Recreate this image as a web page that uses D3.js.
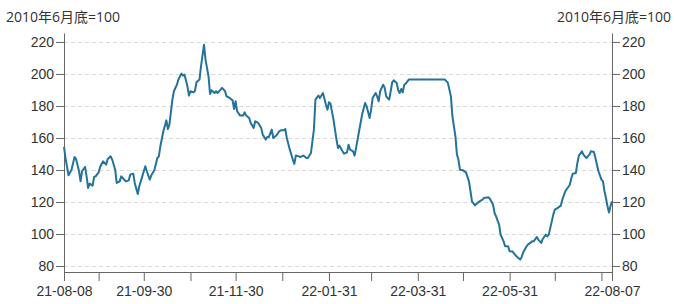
<!DOCTYPE html>
<html>
<head>
<meta charset="utf-8">
<script src="https://cdn.jsdelivr.net/npm/d3@7/dist/d3.min.js"></script>
<style>
  body { margin: 0; background: #fff; }
  svg { display: block; font-family: "Open Sans", "Noto Sans CJK SC", sans-serif; }
</style>
</head>
<body>
<div id="chart"></div>
<script>
// 数据：起始日 + 天数偏移，指数值（2010年6月底=100）
const startDate = '2021-08-08';
const endDate = '2022-08-07';

const dayOffsets = [
  0, 1, 3, 5, 7, 8, 10, 11, 12, 14, 15, 16, 17, 19, 20, 21, 23, 24, 26, 28,
  29, 31, 32, 34, 35, 37, 38, 39, 41, 43, 44, 46, 47, 49, 50, 52, 54, 55, 57, 58,
  60, 62, 63, 64, 66, 68, 69, 70, 72, 73, 75, 76, 78, 79, 80, 82, 83, 84, 86, 87,
  88, 90, 91, 93, 94, 96, 97, 98, 100, 101, 102, 104, 105, 107, 108, 110, 112, 113, 114, 115,
  117, 119, 120, 121, 123, 124, 126, 127, 129, 131, 132, 134, 135, 136, 138, 139, 141, 143, 144, 146,
  147, 148, 150, 152, 153, 154, 156, 157, 159, 161, 162, 164, 166, 167, 169, 170, 171, 172, 174, 175,
  176, 177, 179, 181, 182, 183, 185, 186, 188, 189, 190, 192, 193, 194, 196, 198, 200, 201, 203, 204,
  205, 207, 208, 209, 210, 212, 213, 214, 216, 217, 218, 219, 221, 222, 223, 224, 225, 226, 227, 229,
  253, 255, 256, 257, 258, 260, 261, 262, 263, 265, 267, 269, 270, 271, 273, 274, 276, 278, 279, 282,
  283, 285, 286, 287, 289, 290, 292, 293, 295, 296, 298, 299, 301, 303, 304, 305, 307, 308, 309, 311,
  312, 314, 315, 317, 318, 320, 321, 322, 324, 325, 326, 328, 330, 331, 333, 334, 336, 337, 338, 340,
  341, 342, 344, 345, 347, 349, 350, 352, 353, 354, 355, 357, 358, 359, 360, 361, 362, 363, 364
];

const values = [
  154.5, 147.5, 136.7, 140.2, 148.1, 146.9, 139.2, 132.9, 139.2, 141.9, 136.0, 128.8, 131.5, 130.2, 135.6, 136.0, 138.5, 141.9, 145.4, 143.3,
  146.9, 148.5, 146.5, 140.2, 131.9, 132.9, 136.0, 135.0, 132.9, 133.5, 137.1, 137.7, 131.9, 125.0, 129.8, 136.0, 142.3, 139.2, 134.0, 136.7,
  139.8, 147.5, 148.5, 154.8, 164.2, 171.0, 165.6, 168.3, 184.0, 189.2, 193.3, 196.5, 200.2, 199.0, 199.6, 192.3, 186.5, 189.2, 188.5, 189.4,
  194.8, 196.5, 204.8, 218.3, 209.0, 198.5, 187.5, 189.8, 188.1, 189.2, 188.1, 190.2, 191.3, 189.2, 186.0, 185.0, 183.5, 178.1, 182.9, 176.7,
  174.0, 174.0, 176.0, 174.0, 172.5, 169.4, 166.3, 170.4, 169.4, 166.3, 162.1, 159.0, 160.6, 160.6, 165.2, 160.0, 161.5, 164.2, 164.8, 164.8,
  165.6, 160.0, 152.7, 146.5, 143.8, 149.0, 148.5, 148.1, 149.0, 147.5, 147.5, 150.6, 165.2, 184.0, 186.5, 185.0, 186.5, 188.1, 180.8, 177.7,
  182.3, 181.5, 171.5, 159.0, 153.8, 155.2, 151.7, 150.2, 151.0, 155.8, 152.7, 151.7, 149.0, 153.8, 164.2, 174.6, 181.9, 179.8, 172.5, 177.7,
  185.0, 188.1, 186.0, 182.9, 189.2, 193.3, 191.3, 186.0, 184.0, 189.2, 194.8, 196.0, 194.4, 189.8, 188.1, 190.6, 188.5, 193.3, 194.0, 196.5,
  196.5, 194.4, 190.2, 186.0, 173.5, 161.0, 149.6, 146.5, 140.2, 139.8, 138.5, 132.9, 126.7, 120.4, 117.9, 118.9, 120.4, 121.5, 122.5, 122.9,
  121.9, 118.3, 113.1, 111.0, 105.8, 99.6, 95.4, 92.3, 92.3, 89.2, 89.0, 87.7, 85.6, 84.0, 85.6, 88.5, 91.9, 93.3, 94.0, 95.4,
  95.4, 98.1, 96.5, 94.4, 96.9, 99.6, 98.5, 99.6, 107.9, 112.1, 115.2, 116.3, 117.7, 121.5, 126.7, 128.1, 130.8, 135.0, 137.7, 138.1,
  144.4, 149.0, 151.7, 149.6, 147.5, 149.6, 151.7, 151.3, 147.5, 143.3, 139.2, 134.0, 132.9, 126.7, 122.5, 117.3, 113.5, 117.3, 120.4
];

// 月末刻度
const tickDates = [
  '2021-08-08', '2021-08-31', '2021-09-30', '2021-10-31', '2021-11-30', '2021-12-31',
  '2022-01-31', '2022-02-28', '2022-03-31', '2022-04-30', '2022-05-31', '2022-06-30',
  '2022-07-31', '2022-08-07'
];
const tickLabels = ['21-08-08', '21-09-30', '21-11-30', '22-01-31', '22-03-31', '22-05-31', '22-08-07'];
const yTicks = [80, 100, 120, 140, 160, 180, 200, 220];
const unitLabel = '2010年6月底=100';

const width = 674, height = 304;
const margin = { top: 33, right: 62, bottom: 32, left: 64 };
const fontSize = '14px';

const parse = d3.timeParse('%Y-%m-%d');
const fmt = d3.timeFormat('%y-%m-%d');
const start = parse(startDate);

const data = dayOffsets.map((d, i) => ({ date: d3.timeDay.offset(start, d), value: values[i] }));

const svg = d3.select('#chart').append('svg')
  .attr('width', width)
  .attr('height', height);

const x = d3.scaleTime()
  .domain([start, parse(endDate)])
  .range([margin.left, width - margin.right]);

const y = d3.scaleLinear()
  .domain([76.25, 225.6])
  .range([height - margin.bottom, margin.top]);

// 网格线
svg.append('g')
  .selectAll('line')
  .data(yTicks)
  .enter()
  .append('line')
  .attr('x1', margin.left)
  .attr('x2', width - margin.right)
  .attr('y1', d => Math.round(y(d)) + 0.5)
  .attr('y2', d => Math.round(y(d)) + 0.5)
  .attr('stroke', '#d9d9d9')
  .attr('stroke-dasharray', '4,3');

const axisColor = '#666';
const textColor = '#333';

function styleAxis(g) {
  g.select('.domain').attr('stroke', axisColor);
  g.selectAll('.tick line').attr('stroke', axisColor);
  g.selectAll('.tick text').attr('fill', textColor).style('font-size', fontSize);
}

// 左轴
svg.append('g')
  .attr('transform', `translate(${margin.left},0)`)
  .call(d3.axisLeft(y).tickValues(yTicks).tickSize(8).tickSizeOuter(0).tickPadding(2))
  .call(styleAxis);

// 右轴
svg.append('g')
  .attr('transform', `translate(${width - margin.right},0)`)
  .call(d3.axisRight(y).tickValues(yTicks).tickSize(8).tickSizeOuter(0).tickPadding(2))
  .call(styleAxis);

// 底轴
svg.append('g')
  .attr('transform', `translate(0,${height - margin.bottom})`)
  .call(d3.axisBottom(x)
    .tickValues(tickDates.map(parse))
    .tickSize(9)
    .tickSizeOuter(0)
    .tickPadding(5)
    .tickFormat(d => tickLabels.includes(fmt(d)) ? fmt(d) : ''))
  .call(styleAxis);

// 折线
const line = d3.line()
  .x(d => x(d.date))
  .y(d => y(d.value));

svg.append('path')
  .datum(data)
  .attr('fill', 'none')
  .attr('stroke', '#23739b')
  .attr('stroke-width', 2)
  .attr('stroke-linejoin', 'round')
  .attr('d', line);

// 单位标题
svg.append('text')
  .attr('x', 6)
  .attr('y', 22)
  .attr('fill', textColor)
  .style('font-size', fontSize)
  .text(unitLabel);

svg.append('text')
  .attr('x', 671)
  .attr('y', 22)
  .attr('text-anchor', 'end')
  .attr('fill', textColor)
  .style('font-size', fontSize)
  .text(unitLabel);
</script>
</body>
</html>
